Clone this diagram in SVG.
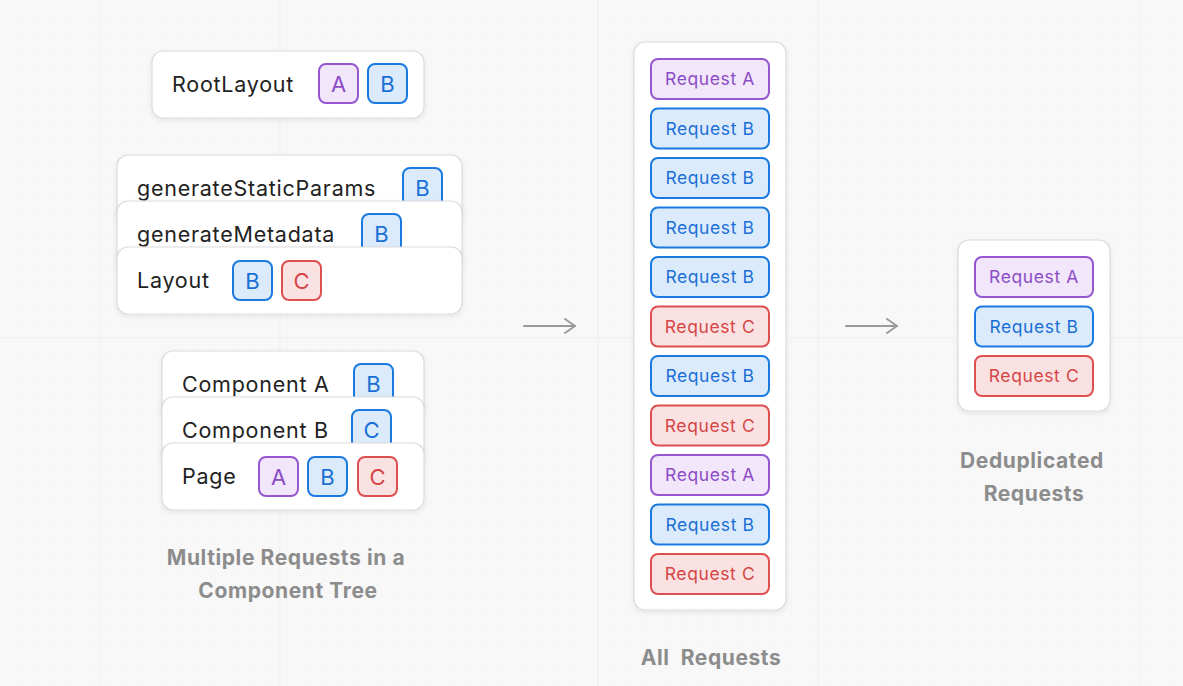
<svg xmlns="http://www.w3.org/2000/svg" width="1183" height="686" viewBox="0 0 1183 686">
<defs>
<pattern id="fine" width="18" height="18" patternUnits="userSpaceOnUse">
<path d="M18 0V18M0 18H18" fill="none" stroke="#f1f1f1" stroke-width="1"/>
</pattern>
<filter id="sh" x="-10%" y="-20%" width="120%" height="150%">
<feDropShadow dx="0" dy="2" stdDeviation="2.5" flood-color="#000" flood-opacity="0.08"/>
</filter>
<marker id="arr" viewBox="0 0 12 16" refX="11" refY="8" markerWidth="12" markerHeight="16" markerUnits="userSpaceOnUse" orient="auto">
<path d="M1 1L11 8L1 15" fill="none" stroke="#9a9a9a" stroke-width="2" stroke-linecap="round" stroke-linejoin="round"/>
</marker>
</defs>
<style>
text{font-family:Inter,"Liberation Sans",sans-serif}
.card{fill:#fff;stroke:#dcdcdc;stroke-width:1.2;filter:url(#sh)}
.lbl{font-size:21.5px;fill:#222;letter-spacing:0.75px}
.bA{fill:#f1e6fa;stroke:#9656cf;stroke-width:2}
.bB{fill:#dcebfc;stroke:#1b7ae0;stroke-width:2}
.bC{fill:#fbe2e2;stroke:#de4f4f;stroke-width:2}
.tA{fill:#8c4cc6}
.tB{fill:#1a6fd6}
.tC{fill:#d44646}
.bt{font-size:22px;text-anchor:middle}
.rt{font-size:17.5px;text-anchor:middle;letter-spacing:0.6px}
.cap{font-size:21px;font-weight:700;fill:#8c8c8c;text-anchor:middle;letter-spacing:0.6px}
.grid{stroke:#eeeeee;stroke-width:1}
</style>
<rect width="1183" height="686" fill="#f8f8f8"/>
<rect width="1183" height="686" fill="url(#fine)" opacity="0.5"/>
<g class="grid">
<line x1="100" y1="0" x2="100" y2="686"/>
<line x1="280" y1="0" x2="280" y2="686"/>
<line x1="598" y1="0" x2="598" y2="686"/>
<line x1="818" y1="0" x2="818" y2="686"/>
<line x1="1140" y1="0" x2="1140" y2="686"/>
<line x1="0" y1="338" x2="1183" y2="338"/>
</g>

<g id="rootlayout">
<rect class="card" x="152" y="51" width="272" height="67" rx="11"/>
<text class="lbl" x="172" y="92">RootLayout</text>
<rect class="bA" x="319" y="64" width="39" height="39" rx="7"/>
<text class="bt tA" x="338.5" y="91.5">A</text>
<rect class="bB" x="368" y="64" width="39" height="39" rx="7"/>
<text class="bt tB" x="387.5" y="91.5">B</text>
</g>

<g id="generateStaticParams">
<rect class="card" x="117" y="155" width="345" height="70" rx="11"/>
<text class="lbl" x="137" y="196">generateStaticParams</text>
<rect class="bB" x="403" y="168" width="39" height="39" rx="7"/>
<text class="bt tB" x="422.5" y="195.5">B</text>
</g>
<g id="generateMetadata">
<rect class="card" x="117" y="201" width="345" height="70" rx="11"/>
<text class="lbl" x="137" y="242">generateMetadata</text>
<rect class="bB" x="362" y="214" width="39" height="39" rx="7"/>
<text class="bt tB" x="381.5" y="241.5">B</text>
</g>
<g id="layout">
<rect class="card" x="117" y="247" width="345" height="67" rx="11"/>
<text class="lbl" x="137" y="288">Layout</text>
<rect class="bB" x="233" y="261" width="39" height="39" rx="7"/>
<text class="bt tB" x="252.5" y="288.5">B</text>
<rect class="bC" x="282" y="261" width="39" height="39" rx="7"/>
<text class="bt tC" x="301.5" y="288.5">C</text>
</g>

<g id="componentA">
<rect class="card" x="162" y="351" width="262" height="70" rx="11"/>
<text class="lbl" x="182" y="392">Component A</text>
<rect class="bB" x="354" y="364" width="39" height="39" rx="7"/>
<text class="bt tB" x="373.5" y="391.5">B</text>
</g>
<g id="componentB">
<rect class="card" x="162" y="397" width="262" height="70" rx="11"/>
<text class="lbl" x="182" y="438">Component B</text>
<rect class="bB" x="352" y="410" width="39" height="39" rx="7"/>
<text class="bt tB" x="371.5" y="437.5">C</text>
</g>
<g id="page">
<rect class="card" x="162" y="443" width="262" height="67" rx="11"/>
<text class="lbl" x="182" y="484">Page</text>
<rect class="bA" x="259" y="457" width="39" height="39" rx="7"/>
<text class="bt tA" x="278.5" y="484.5">A</text>
<rect class="bB" x="308" y="457" width="39" height="39" rx="7"/>
<text class="bt tB" x="327.5" y="484.5">B</text>
<rect class="bC" x="358" y="457" width="39" height="39" rx="7"/>
<text class="bt tC" x="377.5" y="484.5">C</text>
</g>

<g id="caption-tree">
<text class="cap" x="286" y="565">Multiple Requests in a</text>
<text class="cap" x="288" y="598">Component Tree</text>
</g>

<g id="all-requests">
<rect class="card" x="634" y="42" width="152" height="568" rx="11"/>
<rect class="bA" x="651" y="59" width="118" height="40" rx="7"/><text class="rt tA" x="710" y="85">Request A</text>
<rect class="bB" x="651" y="108.5" width="118" height="40" rx="7"/><text class="rt tB" x="710" y="134.5">Request B</text>
<rect class="bB" x="651" y="158" width="118" height="40" rx="7"/><text class="rt tB" x="710" y="184">Request B</text>
<rect class="bB" x="651" y="207.5" width="118" height="40" rx="7"/><text class="rt tB" x="710" y="233.5">Request B</text>
<rect class="bB" x="651" y="257" width="118" height="40" rx="7"/><text class="rt tB" x="710" y="283">Request B</text>
<rect class="bC" x="651" y="306.5" width="118" height="40" rx="7"/><text class="rt tC" x="710" y="332.5">Request C</text>
<rect class="bB" x="651" y="356" width="118" height="40" rx="7"/><text class="rt tB" x="710" y="382">Request B</text>
<rect class="bC" x="651" y="405.5" width="118" height="40" rx="7"/><text class="rt tC" x="710" y="431.5">Request C</text>
<rect class="bA" x="651" y="455" width="118" height="40" rx="7"/><text class="rt tA" x="710" y="481">Request A</text>
<rect class="bB" x="651" y="504.5" width="118" height="40" rx="7"/><text class="rt tB" x="710" y="530.5">Request B</text>
<rect class="bC" x="651" y="554" width="118" height="40" rx="7"/><text class="rt tC" x="710" y="580">Request C</text>
</g>
<g id="caption-all">
<text class="cap" x="711" y="665" xml:space="preserve">All  Requests</text>
</g>

<g id="deduplicated">
<rect class="card" x="958" y="240" width="152" height="171" rx="11"/>
<rect class="bA" x="975" y="257" width="118" height="40" rx="7"/><text class="rt tA" x="1034" y="283">Request A</text>
<rect class="bB" x="975" y="306.5" width="118" height="40" rx="7"/><text class="rt tB" x="1034" y="332.5">Request B</text>
<rect class="bC" x="975" y="356" width="118" height="40" rx="7"/><text class="rt tC" x="1034" y="382">Request C</text>
</g>
<g id="caption-dedup">
<text class="cap" x="1032" y="468">Deduplicated</text>
<text class="cap" x="1034" y="501">Requests</text>
</g>

<g id="connectors" fill="none" stroke="#9a9a9a" stroke-width="2" stroke-linecap="round">
<line x1="524" y1="326" x2="575" y2="326" marker-end="url(#arr)"/>
<line x1="846" y1="326" x2="897" y2="326" marker-end="url(#arr)"/>
</g>
</svg>
